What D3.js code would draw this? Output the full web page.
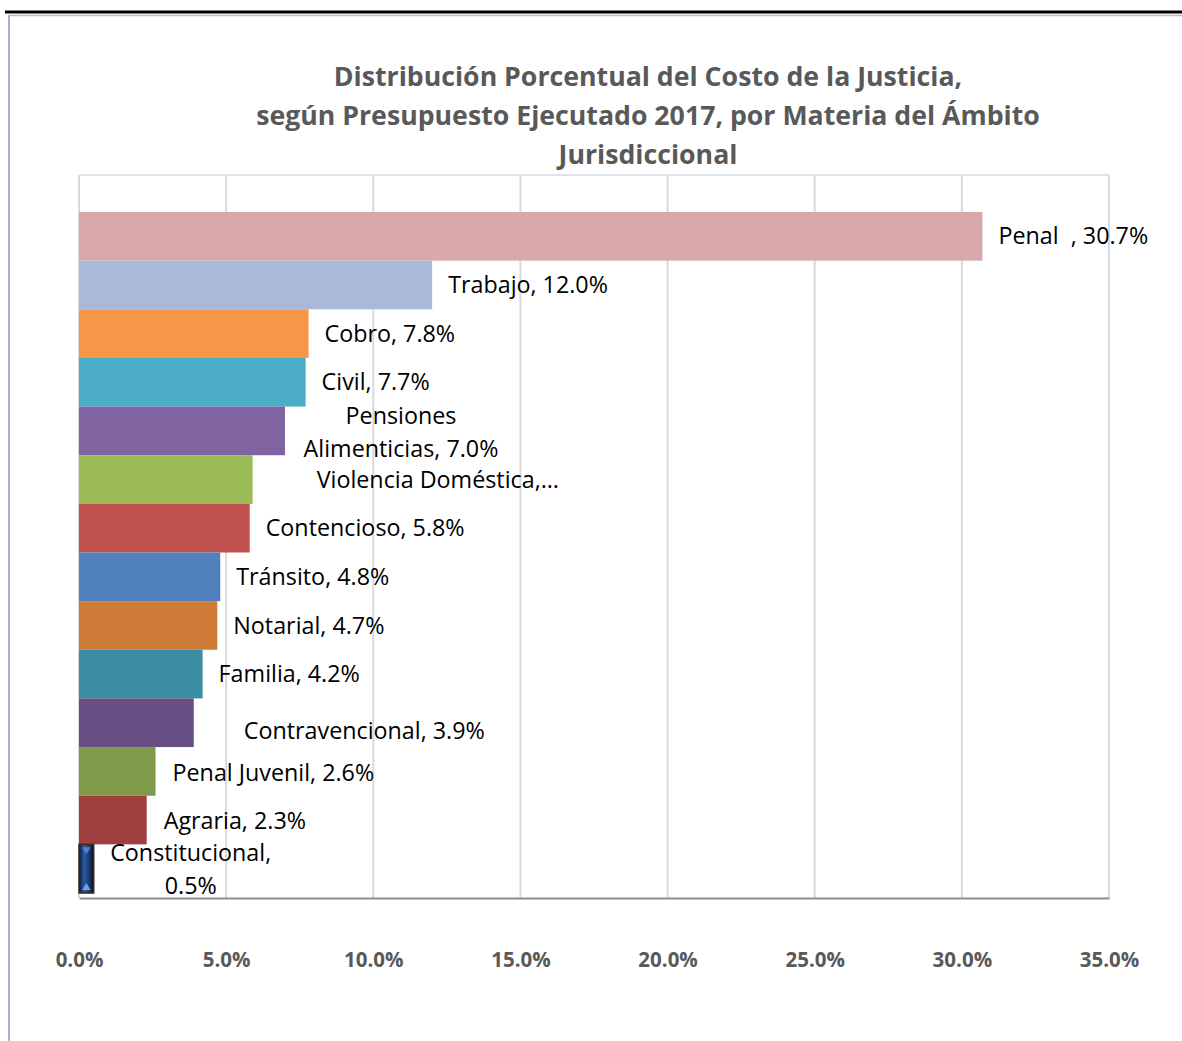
<!DOCTYPE html>
<html>
<head>
<meta charset="utf-8">
<script src="https://cdn.jsdelivr.net/npm/d3@7"></script>
<style>
	body { margin: 0; background: #fff; }
	svg { display: block; }
</style>
</head>
<body>
<main></main>
<script>
// DATA
const categories = ["Penal", "Trabajo", "Cobro", "Civil", "Pensiones Alimenticias", "Violencia Doméstica",
	"Contencioso", "Tránsito", "Notarial", "Familia", "Contravencional", "Penal Juvenil", "Agraria", "Constitucional"];
const values = [30.7, 12.0, 7.8, 7.7, 7.0, 5.9, 5.8, 4.8, 4.7, 4.2, 3.9, 2.6, 2.3, 0.5];
const barColors = ["#d9a9aa", "#aab9d7", "#f79646", "#4bacc6", "#8064a2", "#9bbb59", "#c0504d",
	"#4f81bd", "#cd7b37", "#3b8da3", "#674f85", "#7f9a48", "#9e413e", "url(#navyGrad)"];
// label text lines as Excel placed them
const labelLines = [["Penal\u00a0\u00a0, 30.7%"], ["Trabajo, 12.0%"], ["Cobro, 7.8%"], ["Civil, 7.7%"],
	["Pensiones", "Alimenticias, 7.0%"], ["Violencia Doméstica,…"], ["Contencioso, 5.8%"], ["Tránsito, 4.8%"],
	["Notarial, 4.7%"], ["Familia, 4.2%"], ["Contravencional, 3.9%"], ["Penal Juvenil, 2.6%"],
	["Agraria, 2.3%"], ["Constitucional,", "0.5%"]];
const xTicks = [0, 5, 10, 15, 20, 25, 30, 35];
const titleLines = ["Distribución Porcentual del Costo de la Justicia,",
	"según Presupuesto Ejecutado 2017, por Materia del Ámbito", "Jurisdiccional"];

// label nudges (layout only): [dx from bar end, dy from bar centre, centred?]
const labelNudge = [[16, 0, false], [16, 0, false], [16, 0, false], [16, 0, false], [116, -15, true],
	[64, 0, false], [16, 0, false], [16, 0, false], [16, 0, false], [16, 0, false], [50, 8, false],
	[17, 1, false], [17, 1, false], [97, -16, true]];

// CHART
const w = 1182, h = 1041;
const plot = { left: 79, right: 1109, top: 175, bottom: 898 };
const font = "'Open Sans', sans-serif";

const svg = d3.select("main").append("svg")
	.attr("width", w)
	.attr("height", h);

// gradient for the bevelled constitucional bar
const defs = svg.append("defs");
const grad = defs.append("linearGradient").attr("id", "navyGrad")
	.attr("x1", 0).attr("x2", 1).attr("y1", 0).attr("y2", 0);
grad.append("stop").attr("offset", "0%").attr("stop-color", "#0b1a33");
grad.append("stop").attr("offset", "35%").attr("stop-color", "#2d5aa0");
grad.append("stop").attr("offset", "65%").attr("stop-color", "#1e3f78");
grad.append("stop").attr("offset", "100%").attr("stop-color", "#07101f");

// page frame
svg.append("line").attr("x1", 5).attr("x2", w).attr("y1", 12).attr("y2", 12)
	.attr("stroke", "#000").attr("stroke-width", 3);
svg.append("line").attr("x1", 8).attr("x2", w).attr("y1", 15.5).attr("y2", 15.5)
	.attr("stroke", "#c3b3da").attr("stroke-width", 1.5);
svg.append("line").attr("x1", 9).attr("x2", 9).attr("y1", 15).attr("y2", h)
	.attr("stroke", "#b9a8d6").attr("stroke-width", 2);

// scales
const xScale = d3.scaleLinear().domain([0, 35]).range([plot.left, plot.right]);
const yScale = d3.scaleBand().domain(categories).range([212, 893]).padding(0);

// grid lines
svg.append("g").selectAll("line")
	.data(xTicks)
	.enter().append("line")
		.attr("x1", d => xScale(d)).attr("x2", d => xScale(d))
		.attr("y1", plot.top).attr("y2", plot.bottom)
		.attr("stroke", d => d === 35 ? "#d3dbe6" : "#d9d9d9")
		.attr("stroke-width", 2);
svg.append("line").attr("x1", plot.left).attr("x2", plot.right)
	.attr("y1", plot.top).attr("y2", plot.top)
	.attr("stroke", "#dde3ec").attr("stroke-width", 2);

// bars
svg.append("g").selectAll("rect")
	.data(values)
	.enter().append("rect")
		.attr("x", xScale(0))
		.attr("y", (d, i) => yScale(categories[i]))
		.attr("width", d => xScale(d) - xScale(0))
		.attr("height", yScale.bandwidth())
		.attr("fill", (d, i) => barColors[i])
		.attr("stroke", (d, i) => i === 13 ? "#3b2a18" : "none")
		.attr("stroke-width", 1.5);

// small bevel arrows on the constitucional bar
const cy0 = yScale(categories[13]), cx0 = xScale(0), cx1 = xScale(values[13]);
svg.append("path")
	.attr("d", `M${cx0 + 3},${cy0 + 3} L${cx1 - 3},${cy0 + 3} L${(cx0 + cx1) / 2},${cy0 + 10} Z`)
	.attr("fill", "#4a82d0");
svg.append("path")
	.attr("d", `M${cx0 + 3},${cy0 + yScale.bandwidth() - 3} L${cx1 - 3},${cy0 + yScale.bandwidth() - 3} L${(cx0 + cx1) / 2},${cy0 + yScale.bandwidth() - 10} Z`)
	.attr("fill", "#6aa3e6");

// bottom axis
const xAxis = d3.axisBottom(xScale).tickValues(xTicks).tickSize(0).tickPadding(0)
	.tickFormat(d => d3.format(".1f")(d) + "%");
const axisG = svg.append("g")
	.attr("transform", `translate(0, ${plot.bottom})`)
	.call(xAxis);
axisG.select(".domain").attr("stroke", "#8c8c8c").attr("stroke-width", 2);
axisG.selectAll("text")
	.attr("y", 62)
	.attr("dy", "0.35em")
	.attr("fill", "#595959")
	.style("font-family", font)
	.style("font-size", "20.5px")
	.style("font-weight", "bold");

// data labels
const labels = svg.append("g").selectAll("text")
	.data(values)
	.enter().append("text")
		.attr("x", (d, i) => xScale(d) + labelNudge[i][0])
		.attr("y", (d, i) => yScale(categories[i]) + yScale.bandwidth() / 2 + labelNudge[i][1])
		.attr("text-anchor", (d, i) => labelNudge[i][2] ? "middle" : "start")
		.style("font-family", font)
		.style("font-size", "23.3px")
		.attr("fill", "#000");
labels.each(function(d, i) {
	const lines = labelLines[i];
	const sel = d3.select(this);
	lines.forEach((t, k) => {
		sel.append("tspan")
			.attr("x", sel.attr("x"))
			.attr("dy", k === 0 ? "0.35em" : 33)
			.text(t);
	});
});

// title
svg.append("g").selectAll("text")
	.data(titleLines)
	.enter().append("text")
		.attr("x", 648)
		.attr("y", (d, i) => 77 + i * 39)
		.attr("dy", "0.35em")
		.attr("text-anchor", "middle")
		.attr("fill", "#595959")
		.style("font-family", font)
		.style("font-size", "26.7px")
		.style("font-weight", "bold")
		.text(d => d);
</script>
</body>
</html>
